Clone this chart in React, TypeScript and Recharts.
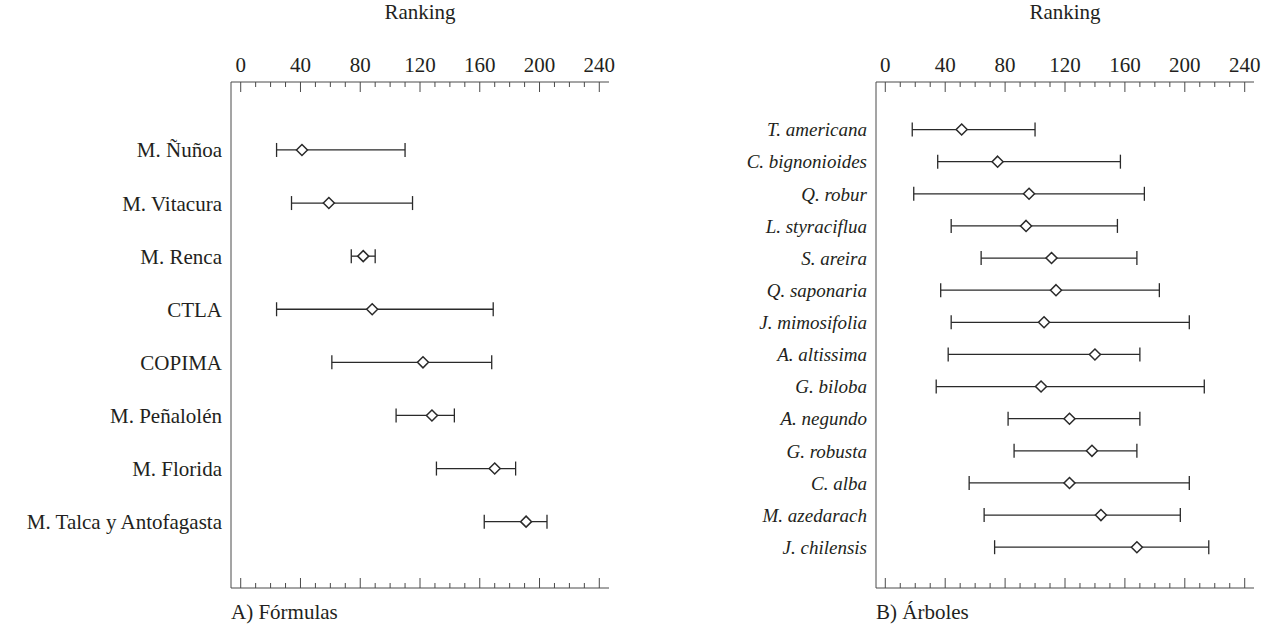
import React from 'react';
import { ComposedChart, Scatter, XAxis, YAxis, ErrorBar } from 'recharts';

// ---------- data ----------
const formulaNames = [
  'M. Ñuñoa',
  'M. Vitacura',
  'M. Renca',
  'CTLA',
  'COPIMA',
  'M. Peñalolén',
  'M. Florida',
  'M. Talca y Antofagasta',
];
const formulaMean = [41, 59, 82, 88, 122, 128, 170, 191];
const formulaLow = [24, 34, 74, 24, 61, 104, 131, 163];
const formulaHigh = [110, 115, 90, 169, 168, 143, 184, 205];

const treeNames = [
  'T. americana',
  'C. bignonioides',
  'Q. robur',
  'L. styraciflua',
  'S. areira',
  'Q. saponaria',
  'J. mimosifolia',
  'A. altissima',
  'G. biloba',
  'A. negundo',
  'G. robusta',
  'C. alba',
  'M. azedarach',
  'J. chilensis',
];
const treeMean = [51, 75, 96, 94, 111, 114, 106, 140, 104, 123, 138, 123, 144, 168];
const treeLow = [18, 35, 19, 44, 64, 37, 44, 42, 34, 82, 86, 56, 66, 73];
const treeHigh = [100, 157, 173, 155, 168, 183, 203, 170, 213, 170, 168, 203, 197, 216];

const rankTicks = [0, 10, 20, 30, 40, 50, 60, 70, 80, 90, 100, 110, 120, 130, 140, 150, 160, 170, 180, 190, 200, 210, 220, 230, 240];
const labelStep = 40;

const titleText = 'Ranking';
const captionA = 'A) Fórmulas';
const captionB = 'B) Árboles';

// ---------- style ----------
const FONT = "'Liberation Serif', 'Times New Roman', serif";
const TEXT = '#231f20';
const LINE = '#4a4a4a';
const MARK = '#2a2a2a';
const TOP_MARGIN = 10;
const PLOT_BOTTOM = 588;

const TopTick = (props: any) => {
  const { x, y, payload } = props;
  const v = payload.value;
  const major = v % labelStep === 0;
  const len = major ? 10 : 5;
  const top = y + TOP_MARGIN;
  return (
    <g>
      <line x1={x} x2={x} y1={top} y2={top + len} stroke={LINE} strokeWidth={1} />
      <line x1={x} x2={x} y1={PLOT_BOTTOM} y2={PLOT_BOTTOM - len} stroke={LINE} strokeWidth={1} />
      {major && (
        <text x={x} y={y} textAnchor="middle" style={{ fontFamily: FONT, fontSize: 21 }} fill={TEXT}>
          {v}
        </text>
      )}
    </g>
  );
};

const Diamond = (props: any) => {
  const { cx, cy } = props;
  const r = 5.5;
  return (
    <polygon
      points={`${cx},${cy - r} ${cx + r},${cy} ${cx},${cy + r} ${cx - r},${cy}`}
      fill="#ffffff"
      stroke={MARK}
      strokeWidth={1.5}
    />
  );
};

type PanelProps = {
  names: string[];
  mean: number[];
  low: number[];
  high: number[];
  left: number;
  yAxisWidth: number;
  marginRight: number;
  xDomain: [number, number];
  yDomain: [number, number];
  italic: boolean;
  labelSize: number;
  caption: string;
};

const Panel = (p: PanelProps) => {
  const data = p.names.map((n, i) => ({
    name: n,
    pos: i + 1,
    mean: p.mean[i],
    err: [p.mean[i] - p.low[i], p.high[i] - p.mean[i]],
  }));
  const posTicks = p.names.map((_, i) => i + 1);
  return (
    <div style={{ position: 'absolute', left: p.left, top: 0, fontFamily: FONT }}>
      <ComposedChart
        width={635}
        height={627}
        data={data}
        margin={{ top: 0, right: p.marginRight, bottom: 0, left: 0 }}
        style={{ fontFamily: FONT }}
      >
        <XAxis
          xAxisId="top"
          orientation="top"
          type="number"
          dataKey="mean"
          domain={p.xDomain}
          allowDataOverflow
          ticks={rankTicks}
          interval={0}
          height={82}
          tickSize={0}
          tickMargin={TOP_MARGIN}
          tick={<TopTick />}
          tickLine={false}
          axisLine={{ stroke: LINE, strokeWidth: 1 }}
          label={{
            value: titleText,
            content: (lp: any) => {
              const vb = lp.viewBox || {};
              return (
                <text
                  x={vb.x + vb.width / 2}
                  y={19}
                  textAnchor="middle"
                  style={{ fontFamily: FONT, fontSize: 21 }}
                  fill={TEXT}
                >
                  {titleText}
                </text>
              );
            },
          }}
        />
        <XAxis
          xAxisId="bottom"
          orientation="bottom"
          type="number"
          domain={p.xDomain}
          allowDataOverflow
          height={39}
          tick={false}
          tickLine={false}
          axisLine={{ stroke: LINE, strokeWidth: 1 }}
          label={{
            value: p.caption,
            content: (lp: any) => {
              const vb = lp.viewBox || {};
              return (
                <text
                  x={vb.x}
                  y={vb.y + 31}
                  textAnchor="start"
                  style={{ fontFamily: FONT, fontSize: 21 }}
                  fill={TEXT}
                >
                  {p.caption}
                </text>
              );
            },
          }}
        />
        <YAxis
          yAxisId="cat"
          type="number"
          dataKey="pos"
          domain={p.yDomain}
          allowDataOverflow
          reversed
          ticks={posTicks}
          interval={0}
          width={p.yAxisWidth}
          tickSize={0}
          tickMargin={9}
          tickLine={false}
          axisLine={{ stroke: LINE, strokeWidth: 1 }}
          tickFormatter={(v: number) => p.names[v - 1] ?? ''}
          tick={{
            fill: TEXT,
            fontSize: p.labelSize,
            fontFamily: FONT,
            fontStyle: p.italic ? 'italic' : 'normal',
          }}
        />
        <YAxis
          yAxisId="box"
          orientation="right"
          type="number"
          domain={p.yDomain}
          allowDataOverflow
          reversed
          width={0}
          tick={false}
          tickLine={false}
          axisLine={{ stroke: LINE, strokeWidth: 1 }}
        />
        <Scatter
          xAxisId="top"
          yAxisId="cat"
          dataKey="pos"
          shape={<Diamond />}
          isAnimationActive={false}
        >
          <ErrorBar
            dataKey="err"
            direction="x"
            width={7}
            stroke={MARK}
            strokeWidth={1.3}
            isAnimationActive={false}
          />
        </Scatter>
      </ComposedChart>
    </div>
  );
};

export default function App() {
  return (
    <div style={{ position: 'absolute', left: 0, top: 0, width: 1270, height: 627, background: '#ffffff' }}>
      <Panel
        names={formulaNames}
        mean={formulaMean}
        low={formulaLow}
        high={formulaHigh}
        left={0}
        yAxisWidth={231}
        marginRight={26}
        xDomain={[-6.5, 246.5]}
        yDomain={[-0.28, 9.25]}
        italic={false}
        labelSize={21}
        caption={captionA}
      />
      <Panel
        names={treeNames}
        mean={treeMean}
        low={treeLow}
        high={treeHigh}
        left={635}
        yAxisWidth={241}
        marginRight={16}
        xDomain={[-6.2, 246.2]}
        yDomain={[-0.48, 15.27]}
        italic={true}
        labelSize={19}
        caption={captionB}
      />
    </div>
  );
}
